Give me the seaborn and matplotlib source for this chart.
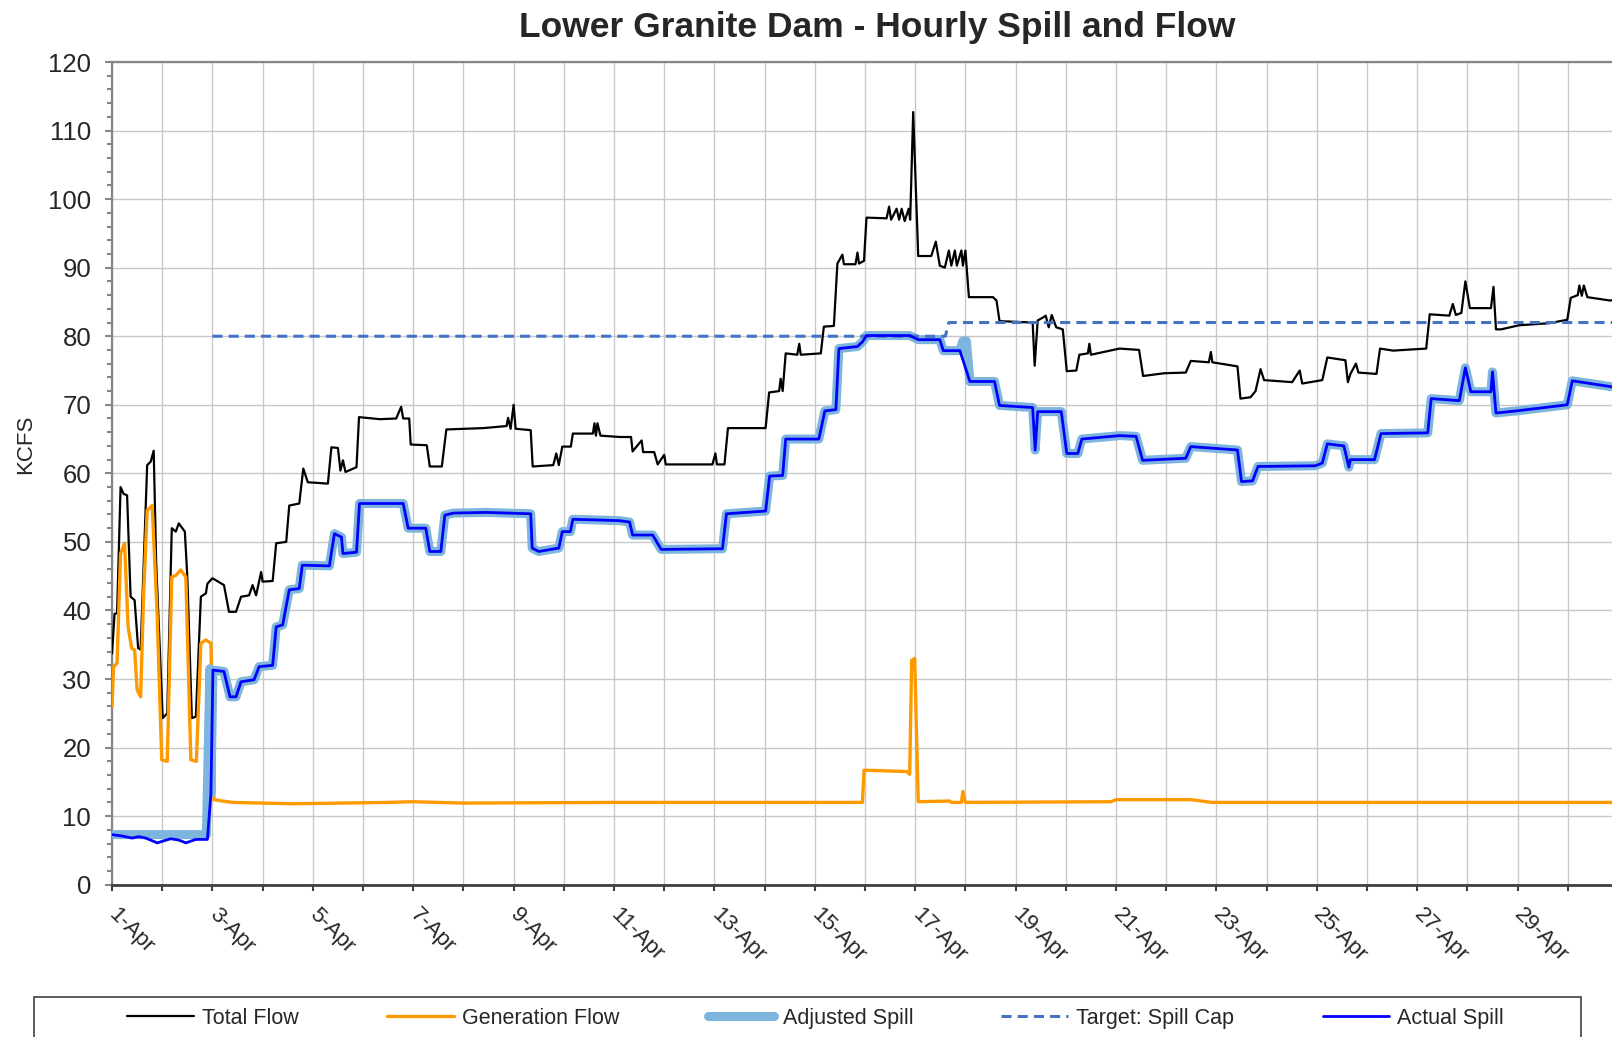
import matplotlib
matplotlib.use('Agg')
import matplotlib.pyplot as plt
from matplotlib.ticker import MultipleLocator
from matplotlib.patches import Rectangle
import seaborn as sns

total_t = [0.0, 0.05, 0.10, 0.17, 0.23, 0.30, 0.37, 0.45, 0.52, 0.57, 0.70, 0.77, 0.83, 0.88,
           1.01, 1.10, 1.19, 1.27, 1.33, 1.45, 1.50, 1.59, 1.67, 1.77, 1.87, 1.90, 2.00, 2.23,
           2.33, 2.47, 2.57, 2.73, 2.80, 2.87, 2.97, 3.00, 3.20, 3.27, 3.47, 3.53, 3.73, 3.81,
           3.90, 4.30, 4.37, 4.50, 4.55, 4.60, 4.65, 4.87, 4.92, 5.34, 5.66, 5.76, 5.80, 5.92,
           5.95, 6.27, 6.33, 6.57, 6.66, 7.40, 7.86, 7.89, 7.94, 8.00, 8.04, 8.34, 8.38, 8.79,
           8.85, 8.90, 8.97, 9.14, 9.18, 9.58, 9.61, 9.64, 9.67, 9.73, 10.12, 10.34, 10.37,
           10.55, 10.58, 10.80, 10.87, 11.00, 11.03, 11.96, 12.02, 12.05, 12.20, 12.27, 13.02,
           13.09, 13.29, 13.32, 13.36, 13.42, 13.65, 13.69, 13.72, 14.12, 14.18, 14.38, 14.45,
           14.55, 14.58, 14.81, 14.85, 14.88, 14.98, 15.03, 15.43, 15.48, 15.52, 15.63, 15.68,
           15.73, 15.79, 15.87, 15.90, 15.96, 16.06, 16.32, 16.41, 16.49, 16.59, 16.67, 16.72,
           16.79, 16.83, 16.92, 16.95, 17.00, 17.07, 17.55, 17.62, 17.68, 18.34, 18.38, 18.44,
           18.54, 18.60, 18.66, 18.72, 18.81, 18.94, 19.02, 19.21, 19.27, 19.44, 19.47, 19.50,
           20.07, 20.46, 20.54, 20.96, 21.39, 21.49, 21.85, 21.89, 21.92, 22.42, 22.48, 22.68,
           22.78, 22.88, 22.95, 23.51, 23.66, 23.71, 24.11, 24.21, 24.57, 24.62, 24.67, 24.78,
           24.83, 25.19, 25.26, 25.52, 26.18, 26.25, 26.64, 26.71, 26.77, 26.88, 26.96, 27.05,
           27.47, 27.52, 27.57, 27.67, 28.03, 28.63, 28.99, 29.06, 29.20, 29.23, 29.28, 29.32,
           29.39, 29.85, 29.99]
total_v = [33.7, 39.5, 39.6, 58.0, 57.0, 56.8, 42.0, 41.5, 34.5, 34.3, 61.2, 61.7, 63.3, 46.8,
           24.3, 25.0, 52.0, 51.5, 52.7, 51.5, 44.9, 24.3, 24.5, 42.0, 42.5, 43.9, 44.7, 43.7,
           39.8, 39.8, 42.0, 42.2, 43.7, 42.2, 45.6, 44.2, 44.3, 49.8, 50.0, 55.3, 55.6, 60.7,
           58.7, 58.5, 63.8, 63.7, 60.4, 61.9, 60.2, 60.9, 68.2, 67.9, 68.0, 69.7, 68.0, 68.0,
           64.2, 64.1, 61.0, 61.0, 66.4, 66.6, 66.9, 68.1, 66.5, 70.0, 66.5, 66.3, 61.0, 61.2,
           62.9, 61.2, 63.9, 63.9, 65.8, 65.8, 67.3, 65.5, 67.3, 65.5, 65.3, 65.3, 63.2,
           64.8, 63.1, 63.1, 61.3, 62.7, 61.3, 61.3, 62.9, 61.3, 61.3, 66.6, 66.6,
           71.8, 72.0, 73.8, 72.0, 77.5, 77.3, 78.9, 77.3, 77.5, 81.4, 81.5, 90.6,
           91.9, 90.5, 90.5, 92.2, 90.6, 91.0, 97.3, 97.2, 98.9, 97.0, 98.6, 97.0,
           98.6, 96.8, 98.6, 97.0, 112.7, 91.7, 91.7, 93.8, 90.3, 90.0, 92.5, 90.3,
           92.5, 90.3, 92.5, 90.3, 92.5, 85.7, 85.7, 85.2, 82.2, 82.0, 75.7, 82.3,
           82.7, 83.0, 81.3, 83.1, 81.3, 81.0, 74.9, 75.0, 77.3, 77.5, 78.9, 77.3,
           78.2, 78.0, 74.2, 74.6, 74.7, 76.4, 76.2, 77.7, 76.2, 75.6, 70.9, 71.1,
           72.0, 75.2, 73.6, 73.3, 75.0, 73.1, 73.6, 76.9, 76.5, 73.3, 74.5, 76.0,
           74.7, 74.5, 78.2, 77.9, 78.2, 83.2, 83.0, 84.7, 83.1, 83.4, 88.0, 84.1,
           84.1, 87.2, 81.0, 81.0, 81.6, 81.9, 82.4, 85.6, 86.0, 87.4, 85.9, 87.4,
           85.7, 85.2, 85.5]

gen_t = [0.0, 0.03, 0.10, 0.17, 0.25, 0.32, 0.39, 0.45, 0.50, 0.57, 0.63, 0.70, 0.80, 0.90,
         0.99, 1.10, 1.19, 1.27, 1.37, 1.47, 1.57, 1.68, 1.77, 1.87, 1.97, 2.03, 2.20, 2.40,
         3.60, 5.50, 6.00, 7.00, 10.00, 14.95, 14.98, 15.83, 15.89, 15.93, 15.99, 16.06, 16.69,
         16.72, 16.92, 16.95, 17.00, 19.90, 20.00, 21.50, 21.90, 24.00, 29.99]
gen_v = [26.0, 31.8, 32.3, 48.3, 49.8, 37.6, 34.5, 34.2, 28.4, 27.4, 42.5, 54.6, 55.3, 39.1,
         18.2, 18.0, 44.9, 45.1, 45.9, 44.9, 18.2, 18.0, 35.2, 35.7, 35.2, 12.4, 12.2, 12.0,
         11.8, 12.0, 12.1, 11.9, 12.0, 12.0, 16.7, 16.5, 16.1, 32.7, 33.0, 12.1, 12.2,
         12.0, 12.0, 13.6, 12.0, 12.1, 12.4, 12.4, 12.0, 12.0, 12.0]

spill_t = [0.0, 0.20, 0.40, 0.53, 0.67, 0.90, 1.17, 1.33, 1.47, 1.67, 1.90, 1.97, 2.01, 2.23,
           2.35, 2.47, 2.57, 2.83, 2.93, 3.20, 3.27, 3.40, 3.53, 3.73, 3.79, 4.33, 4.43, 4.57,
           4.60, 4.87, 4.93, 5.80, 5.90, 6.25, 6.33, 6.55, 6.63, 6.80, 7.45, 8.34, 8.37, 8.50,
           8.90, 8.97, 9.13, 9.18, 10.10, 10.31, 10.37, 10.77, 10.94, 12.16, 12.24, 13.02,
           13.10, 13.36, 13.42, 14.08, 14.20, 14.42, 14.48, 14.85, 14.95, 15.03, 15.89, 16.06,
           16.49, 16.56, 16.89, 17.09, 17.58, 17.68, 18.34, 18.39, 18.44, 18.91, 19.02, 19.24,
           19.32, 20.07, 20.40, 20.53, 21.39, 21.49, 22.42, 22.50, 22.72, 22.83, 23.97, 24.11,
           24.21, 24.54, 24.64, 24.67, 25.15, 25.28, 26.21, 26.28, 26.84, 26.96, 27.07, 27.47,
           27.50, 27.57, 27.97, 28.99, 29.09, 29.99]
spill_v = [7.3, 7.1, 6.8, 7.0, 6.8, 6.1, 6.7, 6.5, 6.1, 6.6, 6.6, 13.3, 31.3, 31.1,
           27.4, 27.4, 29.6, 29.9, 31.8, 32.0, 37.6, 37.9, 43.0, 43.2, 46.6, 46.5, 51.2, 50.7,
           48.3, 48.5, 55.6, 55.6, 52.0, 52.0, 48.6, 48.6, 53.9, 54.2, 54.3, 54.1, 49.1, 48.6,
           49.1, 51.5, 51.5, 53.3, 53.1, 52.9, 51.0, 51.0, 48.9, 49.0, 54.1, 54.5,
           59.6, 59.7, 65.0, 65.0, 69.1, 69.3, 78.2, 78.5, 79.2, 80.1, 80.1, 79.5,
           79.5, 77.9, 77.9, 73.4, 73.4, 69.9, 69.6, 63.4, 69.0, 69.0, 62.9, 62.9,
           65.0, 65.5, 65.4, 61.9, 62.2, 63.9, 63.4, 58.8, 58.9, 61.0, 61.1, 61.5,
           64.3, 64.0, 60.9, 62.0, 62.0, 65.8, 65.9, 70.9, 70.6, 75.4, 71.9, 71.9,
           74.8, 68.8, 69.1, 70.0, 73.5, 72.5]

# adjusted spill follows actual spill except where the two differ
adj_early_t = [0.0, 1.88, 1.95]
adj_early_v = [7.3, 7.3, 31.5]
adj_bump_t = [16.95, 17.02]
adj_bump_v = [79.3, 79.3]

cap_t = [2.0, 16.60, 16.67, 30.0]
cap_v = [80, 80, 82, 82]

adj_t, adj_v = list(adj_early_t), list(adj_early_v)
for t, v in zip(spill_t, spill_v):
    if t <= adj_early_t[-1]:
        continue
    if t > adj_bump_t[0] and not adj_t[-1] >= adj_bump_t[0]:
        adj_t += adj_bump_t
        adj_v += adj_bump_v
    adj_t.append(t)
    adj_v.append(v)

sns.set_theme(style='white')
plt.rcParams['font.family'] = ['Liberation Sans', 'DejaVu Sans']

fig = plt.figure(figsize=(16.12, 10.37), dpi=100)
ax = fig.add_axes([0.0695, 0.1469, 0.9342, 0.7933])

sns.lineplot(x=total_t, y=total_v, ax=ax, color='black', linewidth=1.6,
             estimator=None, sort=False, label='Total Flow', zorder=3)
sns.lineplot(x=gen_t, y=gen_v, ax=ax, color='#ff9900', linewidth=2.4,
             estimator=None, sort=False, label='Generation Flow', zorder=3)
sns.lineplot(x=adj_t, y=adj_v, ax=ax, color='#7db5de', linewidth=6.5,
             estimator=None, sort=False, label='Adjusted Spill', zorder=4,
             solid_capstyle='round', solid_joinstyle='round')
sns.lineplot(x=cap_t, y=cap_v, ax=ax, color='#4472c4', linewidth=2.2,
             estimator=None, sort=False, label='Target: Spill Cap', zorder=4,
             linestyle=(0, (3.3, 2)))
sns.lineplot(x=spill_t, y=spill_v, ax=ax, color='#0000ff', linewidth=2.0,
             estimator=None, sort=False, label='Actual Spill', zorder=5)

handles, labels = ax.get_legend_handles_labels()
ax.get_legend().remove()

ax.set_xlim(0, 30)
ax.set_ylim(0, 120)
ax.set_xticks(range(0, 31))
ax.set_xticklabels([f'{d + 1}-Apr' if d % 2 == 0 and d < 30 else '' for d in range(0, 31)])
ax.yaxis.set_major_locator(MultipleLocator(10))
ax.yaxis.set_minor_locator(MultipleLocator(2))
ax.set_xlabel('')
ax.set_ylabel('')

ax.grid(True, which='major', color='#c8c8c8', linewidth=1.0)
ax.set_axisbelow(True)

ax.tick_params(axis='y', which='major', direction='out', length=5, width=1.5,
               color='#868686', labelsize=18.5, pad=10, left=True)
ax.tick_params(axis='y', which='minor', direction='out', length=3.5, width=1.5,
               color='#868686', left=True)
ax.tick_params(axis='x', which='major', direction='out', length=4.5, width=1.5,
               color='#404040', labelsize=16, pad=15, bottom=True)
for lbl in ax.get_xticklabels():
    lbl.set_rotation(-45)
    lbl.set_ha('left')
    lbl.set_va('center')
    lbl.set_rotation_mode('anchor')

for side in ['left', 'top']:
    ax.spines[side].set_color('#868686')
    ax.spines[side].set_linewidth(1.6)
ax.spines['bottom'].set_color('#404040')
ax.spines['bottom'].set_linewidth(2.0)
ax.spines['right'].set_visible(False)

fig.text(0.544, 0.973, 'Lower Granite Dam - Hourly Spill and Flow',
         ha='center', va='center', fontsize=25.5, fontweight='bold')
fig.text(0.016, 0.572, 'KCFS', rotation=90, ha='center', va='center', fontsize=16)

# legend: box across the bottom, entries centred inside it
fig.add_artist(Rectangle((34 / 1612, -0.01), 1547 / 1612, 40 / 1037 + 0.01,
                         transform=fig.transFigure, fill=False,
                         edgecolor='#404040', linewidth=1.2))
fig.legend(handles, labels, loc='center', ncol=5, frameon=False,
           bbox_to_anchor=(0.506, 0.0183), fontsize=15.5, handlelength=3.1,
           handletextpad=0.38, columnspacing=4.1, borderaxespad=0, borderpad=0)

fig.savefig('out.png', dpi=100)
